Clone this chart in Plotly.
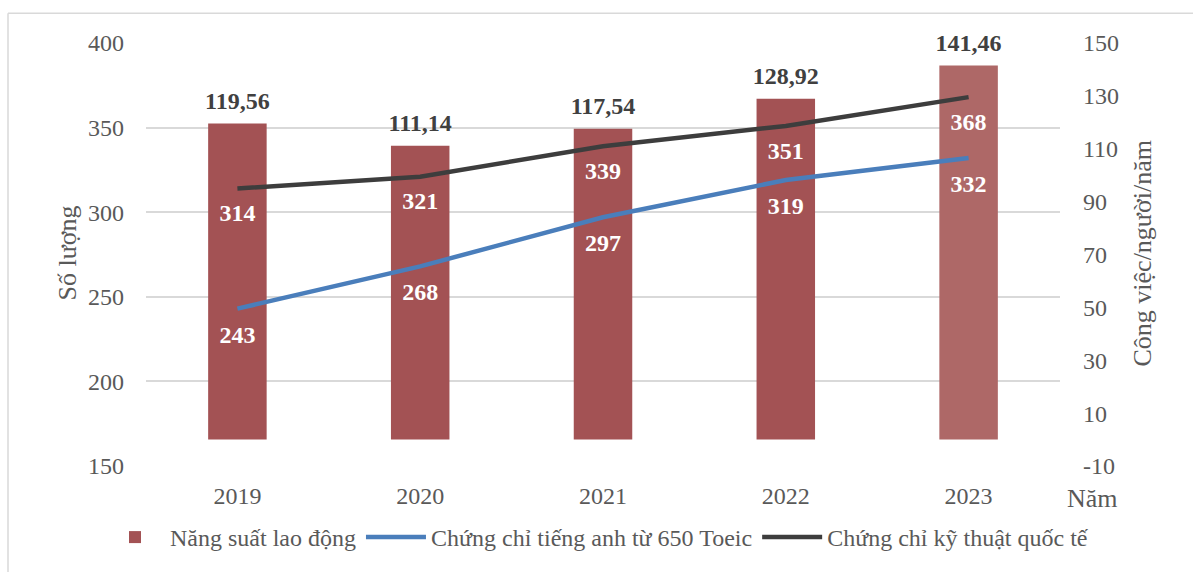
import plotly.graph_objects as go

years = ["2019", "2020", "2021", "2022", "2023"]
productivity = [119.56, 111.14, 117.54, 128.92, 141.46]
toeic = [243, 268, 297, 319, 332]
technical = [314, 321, 339, 351, 368]

left_ticks = [150, 200, 250, 300, 350, 400]
right_ticks = [-10, 10, 30, 50, 70, 90, 110, 130, 150]
right_tick_labels = ["-10", "10", "30", "50", "70", "90", "110", "130", "150"]

FONT = "Liberation Serif"
GRAY = "#595959"
FS = 24

bar_colors = ["#A35254", "#A35254", "#A35254", "#A35254", "#AE6867"]

fig = go.Figure()
# bars on the primary axis (drawn at the right side), lines on the overlay axis
fig.add_trace(go.Bar(
    x=years, y=productivity, yaxis="y", name="Năng suất lao động",
    marker=dict(color=bar_colors, line=dict(width=0)), width=0.32,
))
fig.add_trace(go.Scatter(
    x=years, y=productivity, yaxis="y", mode="markers+text", showlegend=False,
    hoverinfo="skip", marker=dict(size=12, opacity=0),
    text=[f"{v:.2f}".replace(".", ",") for v in productivity],
    textposition="top center", cliponaxis=False,
    textfont=dict(family=FONT, size=FS, color="#404040", weight="bold"),
))
fig.add_trace(go.Scatter(
    x=years, y=toeic, yaxis="y2", name="Chứng chỉ tiếng anh từ 650 Toeic",
    mode="lines", line=dict(color="#4A7EBB", width=4.5),
))
fig.add_trace(go.Scatter(
    x=years, y=technical, yaxis="y2", name="Chứng chỉ kỹ thuật quốc tế",
    mode="lines", line=dict(color="#3D3D3D", width=4.5),
))
fig.add_trace(go.Scatter(
    x=years, y=toeic, yaxis="y2", mode="markers+text", showlegend=False,
    hoverinfo="skip", marker=dict(size=24, opacity=0),
    text=[str(v) for v in toeic], textposition="bottom center",
    textfont=dict(family=FONT, size=FS, color="white", weight="bold"),
))
fig.add_trace(go.Scatter(
    x=years, y=technical, yaxis="y2", mode="markers+text", showlegend=False,
    hoverinfo="skip", marker=dict(size=22, opacity=0),
    text=[str(v) for v in technical], textposition="bottom center",
    textfont=dict(family=FONT, size=FS, color="white", weight="bold"),
))

L, R, T, B = 146, 133, 43, 103
W, H = 1193, 572
pw, ph = W - L - R, H - T - B

def px(x):
    return (x - L) / pw

def py(y):
    return (H - B - y) / ph

fig.update_layout(
    width=W, height=H,
    margin=dict(l=L, r=R, t=T, b=B, pad=0),
    paper_bgcolor="white", plot_bgcolor="white",
    font=dict(family=FONT, size=FS, color=GRAY),
    xaxis=dict(
        type="category", showgrid=False, zeroline=False, showline=False,
        ticks="", ticklabelstandoff=13,
        tickfont=dict(family=FONT, size=FS, color=GRAY),
    ),
    yaxis=dict(
        range=[-10, 150], tickvals=right_ticks, ticktext=right_tick_labels,
        side="right", showgrid=False, zeroline=False, showline=False, ticks="",
        ticklabelstandoff=22,
        tickfont=dict(family=FONT, size=FS, color=GRAY),
    ),
    yaxis2=dict(
        range=[150, 400], tickvals=left_ticks, overlaying="y", side="left",
        showgrid=True, gridcolor="#D9D9D9", gridwidth=1.5,
        zeroline=False, showline=False, ticks="", ticklabelstandoff=21,
        tickfont=dict(family=FONT, size=FS, color=GRAY),
    ),
    showlegend=True,
    legend=dict(
        orientation="h", x=px(100), xanchor="left", y=py(541), yanchor="middle",
        font=dict(family=FONT, size=FS, color=GRAY), itemwidth=60,
        traceorder="normal", bgcolor="rgba(0,0,0,0)",
    ),
    annotations=[
        dict(text="Số lượng", xref="paper", yref="paper", x=px(68), y=py(255),
             xanchor="center", yanchor="middle",
             textangle=-90, showarrow=False, font=dict(family=FONT, size=26, color=GRAY)),
        dict(text="Công việc/người/năm", xref="paper", yref="paper", x=px(1143), y=py(255),
             xanchor="center", yanchor="middle",
             textangle=-90, showarrow=False, font=dict(family=FONT, size=26, color=GRAY)),
        dict(text="Năm", xref="paper", yref="paper", x=px(1092), y=py(502),
             xanchor="center", yanchor="middle",
             showarrow=False, font=dict(family=FONT, size=26, color=GRAY)),
    ],
    shapes=[
        dict(type="line", xref="paper", yref="paper", x0=px(8), x1=px(1200), y0=py(13), y1=py(13),
             line=dict(color="#D9D9D9", width=1.5)),
        dict(type="line", xref="paper", yref="paper", x0=px(8), x1=px(8), y0=py(13), y1=py(580),
             line=dict(color="#D9D9D9", width=1.5)),
    ],
)

fig.write_html("out.html")
